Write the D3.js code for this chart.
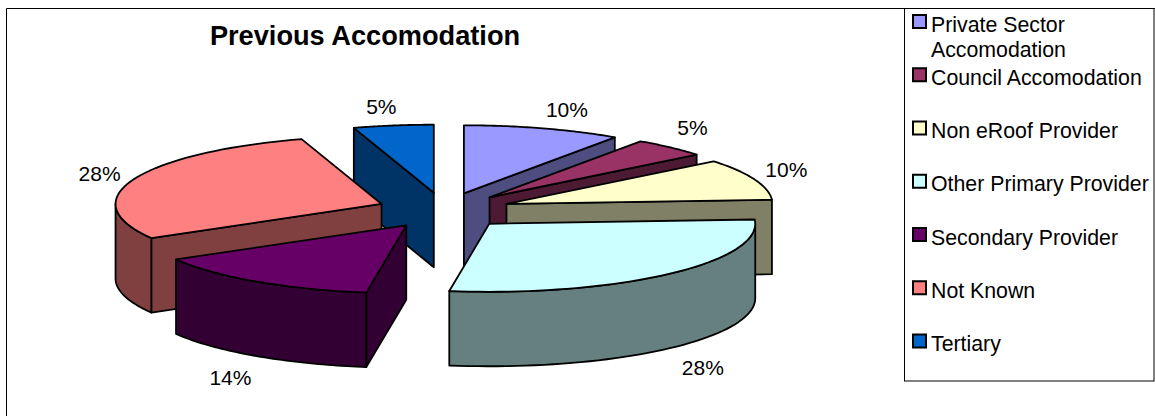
<!DOCTYPE html>
<html><head><meta charset="utf-8">
<script src="https://cdn.jsdelivr.net/npm/d3@7/dist/d3.min.js"></script>
<style>html,body{margin:0;padding:0;background:#fff}svg{display:block}text{font-family:"Liberation Sans",Arial,sans-serif;fill:#000}</style>
</head><body><div id="chart"></div>
<script>
const categories = ["Private Sector Accomodation","Council Accomodation","Non eRoof Provider","Other Primary Provider","Secondary Provider","Not Known","Tertiary"];
const values = [9.6,4.6,9.8,28.4,14.25,28.49,4.86];
const colors = ["#9999FF","#993366","#FFFFCC","#CCFFFF","#660066","#FF8080","#0066CC"];
const labelNudgeX = [24,22,32,34,-26,-34,-12];
const labelNudgeY = [-18,-19,-9,20,22,-5,-19];

const W=1155,H=416, cx=444, cy=210.5, rx=266, ry=68, ex=67, ey=18, depth=74.5;
const svg=d3.select("#chart").append("svg").attr("width",W).attr("height",H);
svg.append("rect").attr("width",W).attr("height",H).attr("fill","#fff");

// chart frame
const frame=d3.path();
frame.moveTo(6.5,416); frame.lineTo(6.5,8.5); frame.lineTo(1155,8.5);
svg.append("path").attr("d",frame.toString()).attr("fill","none").attr("stroke","#000").attr("stroke-width",1);
svg.append("rect").attr("x",904.5).attr("y",8.5).attr("width",249.5).attr("height",372.5).attr("fill","#fff").attr("stroke","#000").attr("stroke-width",1);

svg.append("text").attr("x",365).attr("y",45).attr("text-anchor","middle").attr("font-weight","bold").attr("font-size",27.2).text("Previous Accomodation");

// projection of the tilted pie
const px=d3.scaleLinear().domain([-1,1]).range([-rx,rx]);
const py=d3.scaleLinear().domain([-1,1]).range([-ry,ry]);
const pie=d3.pie().sort(null).startAngle(0).endAngle(2*Math.PI)(values);
const line=d3.line().x(p=>p[0]).y(p=>p[1]);

const slices=pie.map((d,i)=>{
  const mid=(d.startAngle+d.endAngle)/2;
  return {i,a0:d.startAngle,a1:d.endAngle,mid,
    ox:cx+ex*Math.sin(mid), oy:cy-ey*Math.cos(mid)};
}).sort((a,b)=>Math.cos(b.mid)-Math.cos(a.mid));

const rim=(s,a,dz=0)=>[s.ox+px(Math.sin(a)), s.oy+py(-Math.cos(a))+dz];
const arcPts=(s,a0,a1,dz=0)=>d3.range(0,49).map(k=>rim(s,a0+(a1-a0)*k/48,dz));
const shade=c=>{const r=d3.rgb(c);return d3.rgb(r.r/2,r.g/2,r.b/2).formatHex();};
const STROKE=1.8;
function face(g,pts,fill){
  g.append("path").attr("d",line(pts)+"Z").attr("fill",fill).attr("stroke","#000").attr("stroke-width",STROKE).attr("stroke-linejoin","round");
}
const gPie=svg.append("g");
slices.forEach(s=>{
  const g=gPie.append("g"), col=colors[s.i], side=shade(col), o=[s.ox,s.oy], o2=[s.ox,s.oy+depth];
  if(Math.sin(s.a0)<0){ const p=rim(s,s.a0),q=rim(s,s.a0,depth); face(g,[o,p,q,o2],side); }
  if(Math.sin(s.a1)>0){ const p=rim(s,s.a1),q=rim(s,s.a1,depth); face(g,[o,p,q,o2],side); }
  const lo=Math.max(s.a0,Math.PI/2), hi=Math.min(s.a1,3*Math.PI/2);
  if(hi>lo){ face(g,arcPts(s,lo,hi).concat(arcPts(s,hi,lo,depth)),side); }
  face(g,[o].concat(arcPts(s,s.a0,s.a1)),col);
});

// percentage labels
const total=d3.sum(values), pct=d3.format(".0%");
svg.append("g").selectAll("text").data(slices).join("text")
  .attr("x",s=>rim(s,s.mid)[0]+labelNudgeX[s.i])
  .attr("y",s=>rim(s,s.mid,Math.cos(s.mid)<0?depth:0)[1]+labelNudgeY[s.i]+7)
  .attr("text-anchor","middle").attr("font-size",21)
  .text(s=>pct(values[s.i]/total));

// legend
const legendY=d3.scalePoint().domain(categories).range([31.5,351]);
const legendLines=name=>name==="Private Sector Accomodation"?["Private Sector","Accomodation"]:[name];
const lg=svg.append("g").selectAll("g").data(categories).join("g");
lg.append("rect").attr("x",913).attr("y",d=>legendY(d)-16.5).attr("width",13).attr("height",13)
  .attr("fill",(d,i)=>colors[i]).attr("stroke","#000").attr("stroke-width",2);
lg.append("text").attr("font-size",21.3).each(function(d){
  d3.select(this).selectAll("tspan").data(legendLines(d)).join("tspan")
    .attr("x",931).attr("y",(t,j)=>legendY(d)+j*25).text(t=>t);
});
</script></body></html>
